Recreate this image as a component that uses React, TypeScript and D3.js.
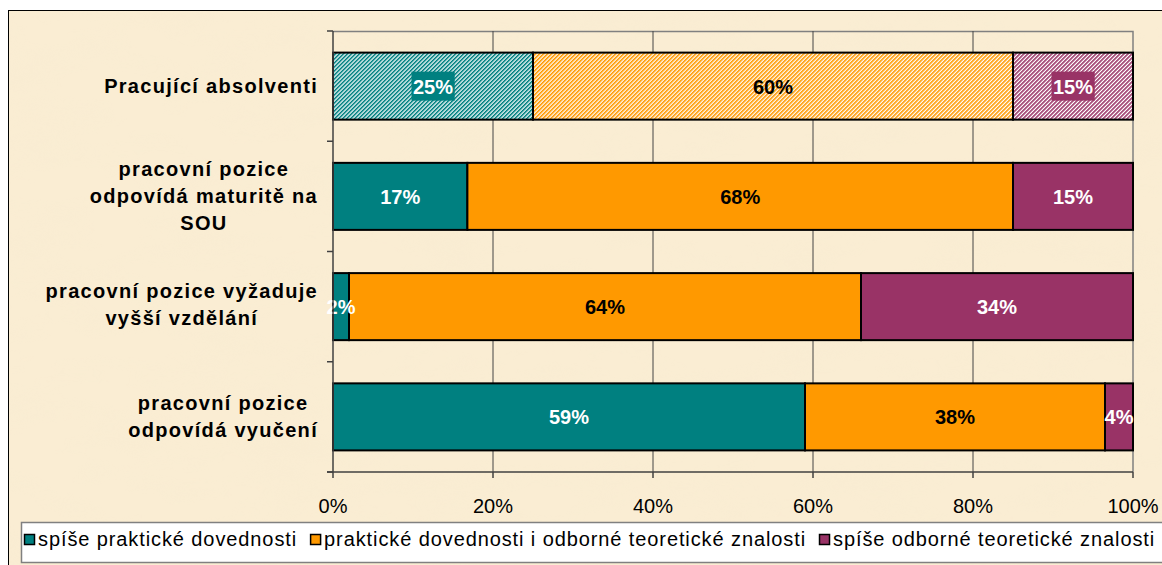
import React, { useEffect, useRef } from "react";
import * as d3 from "d3";

const categories: string[][] = [
  ["Pracující absolventi"],
  ["pracovní pozice", "odpovídá maturitě na", "SOU"],
  ["pracovní pozice vyžaduje", "vyšší vzdělání"],
  ["pracovní pozice", "odpovídá vyučení"],
];
const hatched = [true, false, false, false];
const seriesNames = [
  "spíše praktické dovednosti",
  "praktické dovednosti i odborné teoretické znalosti",
  "spíše odborné teoretické znalosti",
];
const seriesColors = ["#008080", "#FF9900", "#993366"];
const labelColors = ["#FFFFFF", "#000000", "#FFFFFF"];
const practical = [25, 16.8, 2, 59];
const both = [60, 68.2, 64, 37.5];
const theoretical = [15, 15, 34, 3.5];
const xTicks = [0, 20, 40, 60, 80, 100];

const W = 1162;
const H = 565;
const FONT = "Arial, 'Liberation Sans', sans-serif";

export default function App() {
  const ref = useRef<SVGSVGElement | null>(null);

  useEffect(() => {
    const svg = d3.select(ref.current);
    svg.selectAll("*").remove();

    const defs = svg.append("defs");
    const f = defs.append("filter").attr("id", "paper").attr("x", 0).attr("y", 0).attr("width", 1).attr("height", 1);
    f.append("feTurbulence").attr("type", "fractalNoise").attr("baseFrequency", "0.012 0.03").attr("numOctaves", 3).attr("seed", 7);
    f.append("feColorMatrix").attr("type", "matrix")
      .attr("values", "0 0 0 0 0.93  0 0 0 0 0.83  0 0 0 0 0.64  1.6 0 0 0 -0.7");

    seriesColors.forEach((c, i) => {
      const p = defs.append("pattern").attr("id", "hatch" + i).attr("patternUnits", "userSpaceOnUse")
        .attr("width", 2.83).attr("height", 2.83).attr("patternTransform", "rotate(45)");
      p.append("rect").attr("width", 2.83).attr("height", 2.83).attr("fill", "#FFFFFF");
      p.append("rect").attr("width", 1.6).attr("height", 2.83).attr("fill", c);
    });

    svg.append("rect").attr("x", 8.5).attr("y", 10.5).attr("width", 1200).attr("height", 600)
      .attr("fill", "#FAEDD3").attr("stroke", "#000").attr("stroke-width", 1);
    svg.append("rect").attr("x", 9).attr("y", 11).attr("width", 1200).attr("height", 600)
      .attr("filter", "url(#paper)").attr("opacity", 0.45);

    const x = d3.scaleLinear().domain([0, 100]).range([333, 1133]);
    const y = d3.scaleBand<number>().domain(d3.range(categories.length)).range([31, 472])
      .paddingInner(0.392).paddingOuter(0.196);

    const g = svg.append("g");
    g.append("path").attr("d", `M${x(0)},31.5H${x(100)}V472`).attr("fill", "none").attr("stroke", "#808080").attr("stroke-width", 1.5);
    xTicks.slice(1, -1).forEach((t) => {
      g.append("line").attr("x1", x(t)).attr("x2", x(t)).attr("y1", 31).attr("y2", 472)
        .attr("stroke", "#444").attr("stroke-width", 1);
    });

    const stack = d3.stack<number>().keys(["0", "1", "2"]).value((i, k) => [practical, both, theoretical][+k][i]);
    const stacked = stack(d3.range(categories.length));

    stacked.forEach((layer, si) => {
      layer.forEach((d, ci) => {
        g.append("rect").attr("x", x(d[0])).attr("y", y(ci)!).attr("width", x(d[1]) - x(d[0])).attr("height", y.bandwidth())
          .attr("fill", hatched[ci] ? `url(#hatch${si})` : seriesColors[si])
          .attr("stroke", "#000").attr("stroke-width", 2);
      });
    });

    stacked.forEach((layer, si) => {
      layer.forEach((d, ci) => {
        const cx = (x(d[0]) + x(d[1])) / 2;
        const cy = y(ci)! + y.bandwidth() / 2;
        const txt = d3.format(".0f")(d[1] - d[0]) + "%";
        const t = g.append("text").attr("x", cx).attr("y", cy + 7.5).attr("text-anchor", "middle")
          .attr("font-family", FONT).attr("font-weight", "bold").attr("font-size", 20)
          .attr("fill", labelColors[si]).text(txt);
        if (hatched[ci] && labelColors[si] === "#FFFFFF") {
          const bb = (t.node() as SVGTextElement).getBBox();
          g.insert("rect", () => t.node() as any).attr("x", bb.x - 1.5).attr("y", cy - 14.5)
            .attr("width", bb.width + 3).attr("height", 29).attr("fill", seriesColors[si]);
        }
      });
    });

    g.append("line").attr("x1", x(0)).attr("x2", x(0)).attr("y1", 31).attr("y2", 472).attr("stroke", "#404040").attr("stroke-width", 1.5);
    const bounds = d3.range(categories.length + 1).map((i) => 31 + (i * 441) / categories.length);
    bounds.forEach((b) => {
      g.append("line").attr("x1", x(0) - 6).attr("x2", x(0)).attr("y1", b).attr("y2", b).attr("stroke", "#404040").attr("stroke-width", 1.5);
    });
    g.append("line").attr("x1", x(0) - 6).attr("x2", x(100)).attr("y1", 472).attr("y2", 472).attr("stroke", "#404040").attr("stroke-width", 1.5);
    xTicks.forEach((t) => {
      g.append("line").attr("x1", x(t)).attr("x2", x(t)).attr("y1", 472).attr("y2", 478).attr("stroke", "#404040").attr("stroke-width", 1.5);
      g.append("text").attr("x", x(t)).attr("y", 513).attr("text-anchor", "middle")
        .attr("font-family", FONT).attr("font-size", 20).attr("fill", "#000").text(t + "%");
    });

    categories.forEach((lines, ci) => {
      const cy = y(ci)! + y.bandwidth() / 2;
      const lh = 27;
      const tg = g.append("g");
      const texts = lines.map((ln, li) =>
        tg.append("text").attr("y", cy + (li - (lines.length - 1) / 2) * lh + 7 - (lines.length === 2 && ci === 2 ? 2 : 0))
          .attr("font-family", FONT).attr("font-weight", "bold").attr("font-size", 20)
          .attr("letter-spacing", 1.3).attr("text-anchor", "middle").attr("fill", "#000").text(ln)
      );
      const maxW = d3.max(texts, (t) => (t.node() as SVGTextElement).getComputedTextLength())!;
      const center = 318 - maxW / 2;
      texts.forEach((t) => t.attr("x", center));
    });

    const lg = svg.append("g");
    lg.append("rect").attr("x", 21.5).attr("y", 522.5).attr("width", 1200).attr("height", 40)
      .attr("fill", "#FFFFFF").attr("stroke", "#808080").attr("stroke-width", 1.5);
    let lx = 24;
    seriesNames.forEach((name, i) => {
      lg.append("rect").attr("x", lx + 0.5).attr("y", 534.5).attr("width", 10).attr("height", 10)
        .attr("fill", seriesColors[i]).attr("stroke", "#000").attr("stroke-width", 1.5);
      const t = lg.append("text").attr("x", lx + 14).attr("y", 546).attr("font-family", FONT)
        .attr("font-size", 20).attr("letter-spacing", 0.9).attr("fill", "#000").text(name);
      const w = (t.node() as SVGTextElement).getComputedTextLength();
      lx = lx + 14 + w + 13;
    });
  }, []);

  return (
    <svg ref={ref} width={W} height={H} style={{ position: "absolute", left: 0, top: 0, background: "#fff" }} />
  );
}
